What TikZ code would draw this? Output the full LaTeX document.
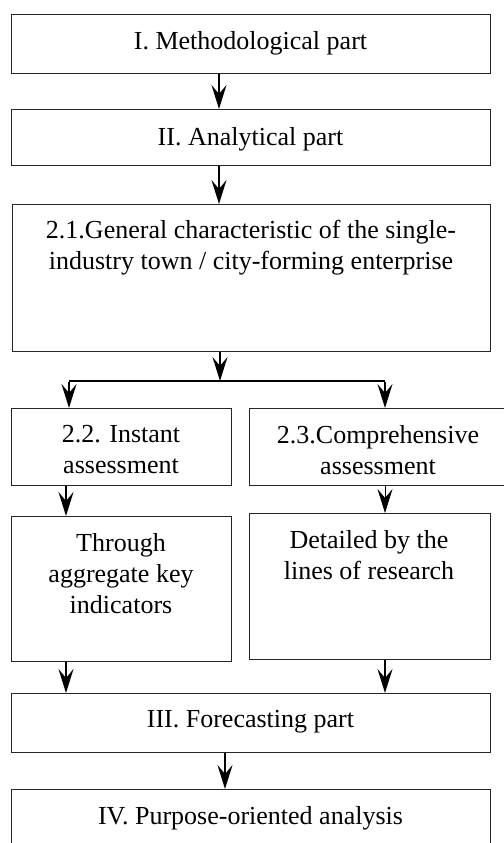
\documentclass[tikz,border=0pt]{standalone}
\usepackage{fontspec}
\setmainfont{Liberation Serif}
\usetikzlibrary{arrows.meta}
\begin{document}
\begin{tikzpicture}[x=1bp,y=-1bp,
  box/.style={draw=black!85,line width=1.1bp,inner sep=0pt,align=center,
    font=\fontsize{26bp}{31bp}\selectfont},
  lbl/.style={font=\fontsize{26bp}{31bp}\selectfont,align=center},
  arr/.style={line width=2bp,-{Stealth[length=24bp,width=15bp,inset=9bp]}},
  thinarr/.style={line width=0.7bp,-{Stealth[length=24bp,width=15bp,inset=9bp]}},
  brline/.style={line width=2bp}]
\useasboundingbox (0,0) rectangle (504,843);
\node[box,minimum width=479bp,minimum height=59bp,anchor=north west] (b1) at (11,14) {};
\node[lbl] (t1) at (250.5,43) {I. Methodological part};
\node[box,minimum width=479bp,minimum height=56bp,anchor=north west] (b2) at (11,109) {};
\node[lbl] (t2) at (250.5,139) {II. Analytical part};
\node[box,minimum width=478bp,minimum height=147bp,anchor=north west] (b3) at (12,204) {};
\node[lbl,anchor=north] (t3) at (251,217)
  {2.1.General characteristic of the single-\\industry town / city-forming enterprise};
\node[box,minimum width=220bp,minimum height=77bp,anchor=north west] (b22) at (11,408) {};
\node[lbl,anchor=north] (t22) at (121,422) {2.2. Instant\\assessment};
\node[box,minimum width=262bp,minimum height=77bp,anchor=north west] (b23) at (249,408) {};
\node[lbl,anchor=north] (t23) at (378,422) {2.3.Comprehensive\\assessment};
\node[box,minimum width=220bp,minimum height=145bp,anchor=north west] (bth) at (11,516) {};
\node[lbl,anchor=north] (tth) at (121,530) {Through\\aggregate key\\indicators};
\node[box,minimum width=241bp,minimum height=146bp,anchor=north west] (bdt) at (249,513) {};
\node[lbl,anchor=north] (tdt) at (369,527) {Detailed by the\\lines of research};
\node[box,minimum width=479bp,minimum height=59bp,anchor=north west] (b3f) at (11,693) {};
\node[lbl] (t3f) at (250.5,722) {III. Forecasting part};
\node[box,minimum width=479bp,minimum height=80bp,anchor=north west] (b4) at (11,789) {};
\node[lbl] (t4) at (250.5,818) {IV. Purpose-oriented analysis};
% connectors
\coordinate (br) at (220,381);
\coordinate (brl) at (69,381);
\coordinate (brr) at (385,381);
\draw[arr] (b1.south -| 219,0) -- (b2.north -| 219,0);
\draw[arr] (b2.south -| 219,0) -- (b3.north -| 219,0);
\draw[arr] (b3.south -| br) -- (br);
\draw[brline] (brl) -- (brr);
\draw[arr] ([yshift=-1bp]brl) -- (b22.north -| brl);
\draw[arr] ([yshift=-1bp]brr) -- (b23.north -| brr);
\draw[arr] (b22.south -| 66,0) -- (bth.north -| 66,0);
\draw[thinarr] (b23.south -| 385,0) -- (bdt.north -| 385,0);
\draw[arr] (bth.south -| 66,0) -- (b3f.north -| 66,0);
\draw[arr] (bdt.south -| 385,0) -- (b3f.north -| 385,0);
\draw[arr] (b3f.south -| 225,0) -- (b4.north -| 225,0);
\end{tikzpicture}
\end{document}
